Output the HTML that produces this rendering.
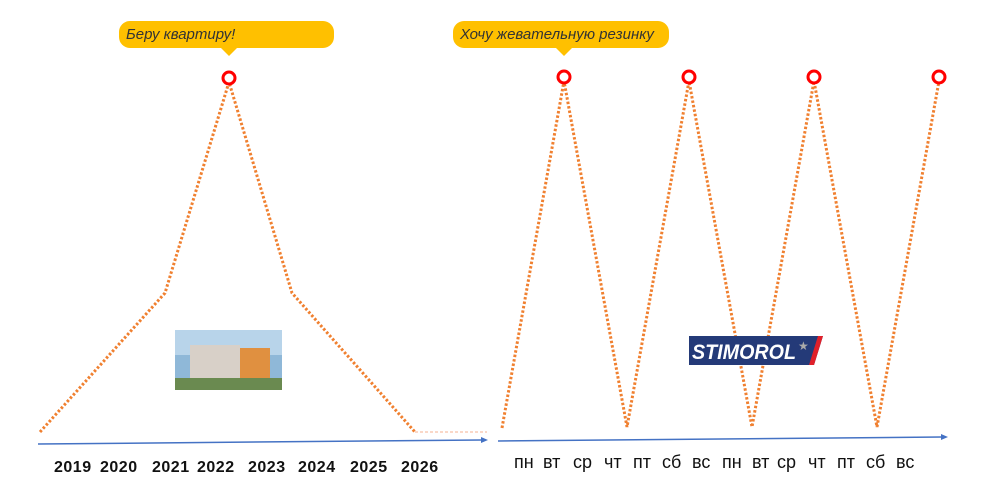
<!DOCTYPE html>
<html><head><meta charset="utf-8"><style>
body{margin:0;background:#fff;width:981px;height:486px;overflow:hidden;position:relative;font-family:"Liberation Sans","DejaVu Sans",sans-serif}
.co{position:absolute;background:#ffc000;border-radius:11px;height:27px;font-style:italic;font-size:15px;color:#333;line-height:27px;padding-left:7px;box-sizing:border-box}
.y{position:absolute;top:458px;font-size:16px;font-weight:bold;color:#111;letter-spacing:0.5px;line-height:20px}
.d{position:absolute;top:452px;font-size:18px;color:#111;line-height:20px}
</style></head><body>
<div class="co" style="left:119px;top:21px;width:215px">Беру квартиру!</div>
<div class="co" style="left:453px;top:21px;width:216px">Хочу жевательную резинку</div>
<svg width="981" height="486" style="position:absolute;left:0;top:0">
<polygon points="221,48 237,48 229,56" fill="#ffc000"/>
<polygon points="556,48 572,48 564,56" fill="#ffc000"/>
<g fill="none" stroke="#f08030" stroke-width="3" stroke-dasharray="2.5,2">
<polyline points="40,432 165,293 229,82 292,293 415,432"/>
<polyline points="502,428 564,81 627,427 689,81 752,427 814,81 877,427 939,81"/>
</g>
<line x1="415" y1="432" x2="487" y2="432" stroke="#f4b090" stroke-width="1" stroke-dasharray="3,2"/>
<g stroke="#4472c4" stroke-width="1.5" fill="#4472c4">
<line x1="38" y1="444" x2="482" y2="440"/><polygon points="488,440 481,437 481,443" stroke="none"/>
<line x1="498" y1="441" x2="942" y2="437"/><polygon points="948,437 941,434 941,440" stroke="none"/>
</g>
<g fill="#fff" stroke="#f00" stroke-width="3">
<circle cx="229" cy="78" r="6"/><circle cx="564" cy="77" r="6"/><circle cx="689" cy="77" r="6"/><circle cx="814" cy="77" r="6"/><circle cx="939" cy="77" r="6"/>
</g>
<rect x="175" y="330" width="107" height="60" fill="#8fb8d8"/>
<rect x="175" y="330" width="107" height="25" fill="#b8d4ea"/>
<rect x="190" y="345" width="50" height="40" fill="#d8d0c8"/>
<rect x="240" y="348" width="30" height="37" fill="#e09040"/>
<rect x="175" y="378" width="107" height="12" fill="#6a8a50"/>
<polygon points="689,336 823,336 814,365 689,365" fill="#243a78"/>
<polygon points="818,336 823,336 814,365 809,365" fill="#e0202a"/>
<text x="692" y="359" fill="#fff" font-family="Liberation Sans" font-weight="bold" font-style="italic" font-size="21" textLength="104" lengthAdjust="spacingAndGlyphs">STIMOROL</text>
<text x="798" y="350" fill="#aaa" font-size="12">★</text>
</svg>
<div class="y" style="left:54px">2019</div><div class="y" style="left:100px">2020</div><div class="y" style="left:152px">2021</div><div class="y" style="left:197px">2022</div><div class="y" style="left:248px">2023</div><div class="y" style="left:298px">2024</div><div class="y" style="left:350px">2025</div><div class="y" style="left:401px">2026</div>
<div class="d" style="left:514px">пн</div><div class="d" style="left:543px">вт</div><div class="d" style="left:573px">ср</div><div class="d" style="left:604px">чт</div><div class="d" style="left:633px">пт</div><div class="d" style="left:662px">сб</div><div class="d" style="left:692px">вс</div><div class="d" style="left:722px">пн</div><div class="d" style="left:752px">вт</div><div class="d" style="left:777px">ср</div><div class="d" style="left:808px">чт</div><div class="d" style="left:837px">пт</div><div class="d" style="left:866px">сб</div><div class="d" style="left:896px">вс</div>
</body></html>
